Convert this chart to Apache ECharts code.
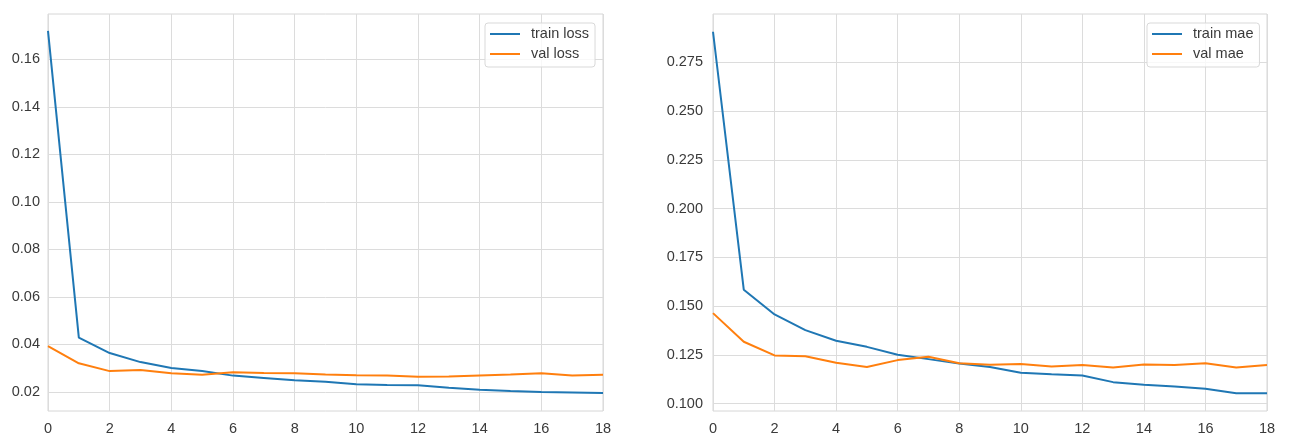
<!DOCTYPE html>
<html>
<head>
<meta charset="utf-8">
<script src="https://cdn.jsdelivr.net/npm/echarts@6/dist/echarts.min.js"></script>
<style>
html,body{margin:0;padding:0;background:#fff;}
#c{width:1290px;height:437px;}
</style>
</head>
<body>
<div id="c"></div>
<script>
const epochs = [0,1,2,3,4,5,6,7,8,9,10,11,12,13,14,15,16,17,18];
const trainLoss = [0.172,0.0428,0.0363,0.0325,0.0300,0.0287,0.0268,0.0258,0.0248,0.0242,0.0232,0.0229,0.0227,0.0217,0.0208,0.0203,0.0199,0.0197,0.0195];
const valLoss = [0.0392,0.0320,0.0287,0.0292,0.0278,0.0272,0.0282,0.0279,0.0278,0.0273,0.0270,0.0268,0.0263,0.0264,0.0269,0.0273,0.0278,0.0269,0.0272];
const trainMae = [0.2907,0.1584,0.1457,0.1377,0.1322,0.1291,0.1250,0.1228,0.1205,0.1188,0.1158,0.1150,0.1144,0.1110,0.1097,0.1088,0.1076,0.1053,0.1053];
const valMae = [0.1464,0.1317,0.1247,0.1243,0.1209,0.1188,0.1223,0.1240,0.1207,0.1199,0.1203,0.1190,0.1198,0.1185,0.1200,0.1198,0.1207,0.1185,0.1198];
const lossTicks = [0.02,0.04,0.06,0.08,0.10,0.12,0.14,0.16];
const maeTicks = [0.100,0.125,0.150,0.175,0.200,0.225,0.250,0.275];
const xTicks = [0,2,4,6,8,10,12,14,16,18];

const FONT = 'Liberation Sans, Arial, sans-serif';
const FS = 14.5;
const gridColor = '#dcdcdc';
const labelColor = '#3a3a3a';
const pair = (xs, ys) => xs.map((x,i)=>[x, ys[i]]);

function xAxis(gi){
  return {
    type:'value', gridIndex:gi, min:0, max:18, interval:2,
    axisLine:{show:false}, axisTick:{show:false},
    splitLine:{show:true, lineStyle:{color:gridColor, width:1}},
    axisLabel:{color:labelColor, fontSize:FS, fontFamily:FONT, margin:10}
  };
}
function yAxis(gi, min, max, ticks, dec, margin){
  return {
    type:'value', gridIndex:gi, min:min, max:max,
    axisLine:{show:false},
    axisTick:{show:false, customValues:ticks},
    splitLine:{show:true, lineStyle:{color:gridColor, width:1}},
    axisLabel:{color:labelColor, fontSize:FS, fontFamily:FONT, margin:margin,
      customValues:ticks, formatter:(v)=>v.toFixed(dec)}
  };
}
function line(name, data, color, xi, yi){
  return {name:name, type:'line', xAxisIndex:xi, yAxisIndex:yi, data:data,
    showSymbol:false, symbol:'none', lineStyle:{color:color, width:2}, itemStyle:{color:color}, animation:false};
}
function legend(left, names){
  return {
    orient:'vertical', left:left, top:23, data:names,
    itemWidth:30, itemHeight:2, itemGap:4, icon:'rect',
    backgroundColor:'rgba(255,255,255,0.8)', borderColor:'#d9d9d9', borderWidth:1, borderRadius:3,
    padding:[3,6,5,5],
    textStyle:{color:labelColor, fontSize:FS, fontFamily:FONT, lineHeight:16, padding:[0,0,0,6]}
  };
}

const chart = echarts.init(document.getElementById('c'), null, {renderer:'canvas'});
chart.setOption({
  backgroundColor:'#fff',
  animation:false,
  grid:[
    {left:48, right:687, top:14, bottom:26, show:true, borderColor:'#d6d6d6', borderWidth:1, backgroundColor:'#fff'},
    {left:713, right:23, top:14, bottom:26, show:true, borderColor:'#d6d6d6', borderWidth:1, backgroundColor:'#fff'}
  ],
  xAxis:[xAxis(0), xAxis(1)],
  yAxis:[yAxis(0, 0.0119, 0.1791, lossTicks, 2, 8), yAxis(1, 0.0962, 0.2998, maeTicks, 3, 10)],
  legend:[legend(485, ['train loss','val loss']), legend(1147, ['train mae','val mae'])],
  series:[
    line('train loss', pair(epochs, trainLoss), '#1f77b4', 0, 0),
    line('val loss', pair(epochs, valLoss), '#ff7f0e', 0, 0),
    line('train mae', pair(epochs, trainMae), '#1f77b4', 1, 1),
    line('val mae', pair(epochs, valMae), '#ff7f0e', 1, 1)
  ]
});
</script>
</body>
</html>
